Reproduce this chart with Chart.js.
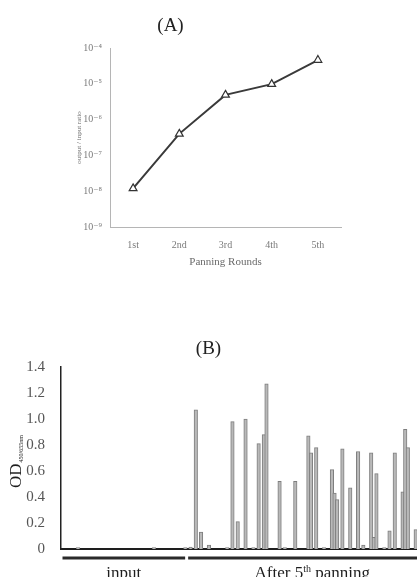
<!DOCTYPE html>
<html><head><meta charset="utf-8">
<script src="https://cdn.jsdelivr.net/npm/chart.js@4/dist/chart.umd.min.js"></script>
<style>
html,body{margin:0;padding:0;background:#fff;width:417px;height:577px;overflow:hidden}
#wa{position:absolute;left:0;top:0;width:417px;height:290px}
#wb{position:absolute;left:0;top:290px;width:417px;height:287px}
</style></head><body>
<div id="wa"><canvas id="ca" width="417" height="290"></canvas></div>
<div id="wb"><canvas id="cb" width="417" height="287"></canvas></div>
<script>
// ---- Panel A data ----
const rounds = ['1st', '2nd', '3rd', '4th', '5th'];
const outputInputRatio = [1.2e-8, 4.0e-7, 4.9e-6, 9.8e-6, 4.6e-5];
const ratioTicks = [1e-9, 1e-8, 1e-7, 1e-6, 1e-5, 1e-4];
const ratioTickLabels = ['10⁻⁹', '10⁻⁸', '10⁻⁷', '10⁻⁶', '10⁻⁵', '10⁻⁴'];

// ---- Panel B data ----
const cloneNumbers = [7, 36, 48, 50, 52, 54, 57, 64, 66, 68, 71, 74, 76, 78, 79, 84, 86, 90, 95, 96, 98, 101,
  104, 105, 106, 108, 111, 114, 116, 119, 120, 121, 124, 126, 128, 131, 132, 133, 136];
const odValues = [0.01, 0.01, 0.01, 0.015, 1.07, 0.13, 0.03, 0.01, 0.98, 0.21, 1.00, 0.01, 0.81, 0.88, 1.27, 0.52, 0.01, 0.52, 0.87, 0.74, 0.78, 0.01,
  0.61, 0.43, 0.38, 0.77, 0.47, 0.75, 0.03, 0.74, 0.09, 0.58, 0.01, 0.14, 0.74, 0.44, 0.92, 0.78, 0.15];
const odTicks = [0, 0.2, 0.4, 0.6, 0.8, 1.0, 1.2, 1.4];
const groupLabels = ['input', 'After 5th panning'];
const groupFirstClone = [1, 49];
const groupLastClone = [48, 144];

const SERIF = '"Liberation Serif", "Times New Roman", "DejaVu Serif", serif';

// ---- Chart A ----
new Chart(document.getElementById('ca'), {
  type: 'line',
  data: {
    labels: rounds,
    datasets: [{
      data: outputInputRatio,
      borderColor: '#3a3a3a',
      borderWidth: 2,
      pointStyle: 'triangle',
      pointRadius: 4.5,
      pointBorderWidth: 1.2,
      pointBackgroundColor: '#ffffff',
      pointBorderColor: '#333',
      tension: 0
    }]
  },
  options: {
    responsive: false,
    animation: false,
    layout: { padding: { left: 0, right: 76, top: 0, bottom: 0 } },
    plugins: {
      legend: { display: false },
      tooltip: { enabled: false },
      title: {
        display: true, text: '(A)', color: '#222',
        font: { family: SERIF, size: 19, weight: 'normal' },
        padding: { top: 15, bottom: 10.2 }
      }
    },
    scales: {
      x: {
        offset: true,
        grid: { display: false, drawTicks: true, tickLength: 3 },
        border: { display: true, color: '#b5b5b5', width: 1 },
        ticks: { color: '#7a7a7a', font: { family: SERIF, size: 10 }, padding: 9 },
        title: { display: true, text: 'Panning Rounds', color: '#6a6a6a',
          font: { family: SERIF, size: 11 }, padding: { top: 0, bottom: 21 } },
        afterFit: (s) => { s.height = 63; }
      },
      y: {
        type: 'logarithmic',
        min: 1e-9, max: 1e-4,
        grid: { display: false, tickLength: 3 },
        border: { display: true, color: '#b5b5b5', width: 1 },
        afterBuildTicks: (s) => { s.ticks = ratioTicks.map(v => ({ value: v })); },
        ticks: {
          color: '#7a7a7a', font: { family: SERIF, size: 10 }, padding: 5,
          callback: (v) => {
            const i = ratioTicks.findIndex(t => Math.abs(Math.log10(t) - Math.log10(v)) < 1e-6);
            return i >= 0 ? ratioTickLabels[i] : '';
          }
        },
        title: { display: true, text: 'output / input ratio', color: '#6a6a6a',
          font: { family: SERIF, size: 7 }, padding: { top: 75, bottom: 0 } },
        afterFit: (s) => { s.width = 110; }
      }
    }
  }
});

// ---- Chart B ----
function drawOrdinalText(ctx, text, x, y, size) {
  const m = text.match(/^(.*\d)(st|nd|rd|th)(.*)$/);
  const parts = m ? [[m[1], false], [m[2], true], [m[3], false]] : [[text, false]];
  const big = size + 'px ' + SERIF, small = Math.round(size * 0.6) + 'px ' + SERIF;
  let total = 0;
  parts.forEach(([t, sup]) => { ctx.font = sup ? small : big; total += ctx.measureText(t).width; });
  let cx = x - total / 2;
  parts.forEach(([t, sup]) => {
    ctx.font = sup ? small : big;
    ctx.fillText(t, cx, sup ? y - size * 0.38 : y);
    cx += ctx.measureText(t).width;
  });
}

const groupPlugin = {
  id: 'groups',
  afterDraw(chart) {
    const ctx = chart.ctx;
    const xs = chart.scales.x;
    const y0 = chart.chartArea.bottom;
    ctx.save();
    ctx.fillStyle = '#1e1e1e';
    ctx.strokeStyle = '#2a2a2a';
    ctx.lineWidth = 3;
    ctx.textBaseline = 'alphabetic';
    groupLabels.forEach((lab, i) => {
      const a = xs.getPixelForValue(groupFirstClone[i] - 0.5) + 1.5;
      const b = xs.getPixelForValue(groupLastClone[i] + 0.5) - 1.5;
      ctx.beginPath();
      ctx.moveTo(a, y0 + 9);
      ctx.lineTo(b, y0 + 9);
      ctx.stroke();
      drawOrdinalText(ctx, lab, (a + b) / 2, y0 + 29, 17);
    });
    ctx.translate(21, (chart.chartArea.top + chart.chartArea.bottom) / 2 + 4);
    ctx.rotate(-Math.PI / 2);
    ctx.textAlign = 'left';
    ctx.font = '17px ' + SERIF;
    const mainT = 'OD', subT = '450/655nm';
    const w1 = ctx.measureText(mainT).width;
    ctx.font = '6px ' + SERIF;
    const w2 = ctx.measureText(subT).width;
    const start = -(w1 + w2) / 2;
    ctx.font = '17px ' + SERIF;
    ctx.fillText(mainT, start, 0);
    ctx.font = '6px ' + SERIF;
    ctx.fillText(subT, start + w1 + 1, 2);
    ctx.restore();
  }
};

new Chart(document.getElementById('cb'), {
  type: 'bar',
  data: {
    datasets: [{
      data: cloneNumbers.map((c, i) => ({ x: c, y: odValues[i] })),
      backgroundColor: '#b9b9b9',
      borderColor: '#7e7e7e',
      borderWidth: 1,
      barThickness: 3.5
    }]
  },
  plugins: [groupPlugin],
  options: {
    responsive: false,
    animation: false,
    layout: { padding: { left: 0, right: 0, top: 0, bottom: 0 } },
    plugins: {
      legend: { display: false },
      tooltip: { enabled: false },
      title: {
        display: true, text: '(B)', color: '#222',
        font: { family: SERIF, size: 19, weight: 'normal' },
        padding: { top: 48, bottom: 6.2 }
      }
    },
    scales: {
      x: {
        type: 'linear', min: 0.5, max: 136.5, offset: false,
        grid: { display: false },
        border: { display: true, color: '#1e1e1e', width: 2 },
        ticks: { display: false },
        afterFit: (s) => { s.height = 28; }
      },
      y: {
        min: 0, max: 1.4,
        grid: { display: false },
        border: { display: true, color: '#222', width: 1.5 },
        afterBuildTicks: (s) => { s.ticks = odTicks.map(v => ({ value: v })); },
        ticks: {
          color: '#555', font: { family: SERIF, size: 15 }, padding: 8,
          callback: (v) => v === 0 ? '0' : v.toFixed(1)
        },
        afterFit: (s) => { s.width = 61; }
      }
    }
  }
});
</script>
</body></html>
